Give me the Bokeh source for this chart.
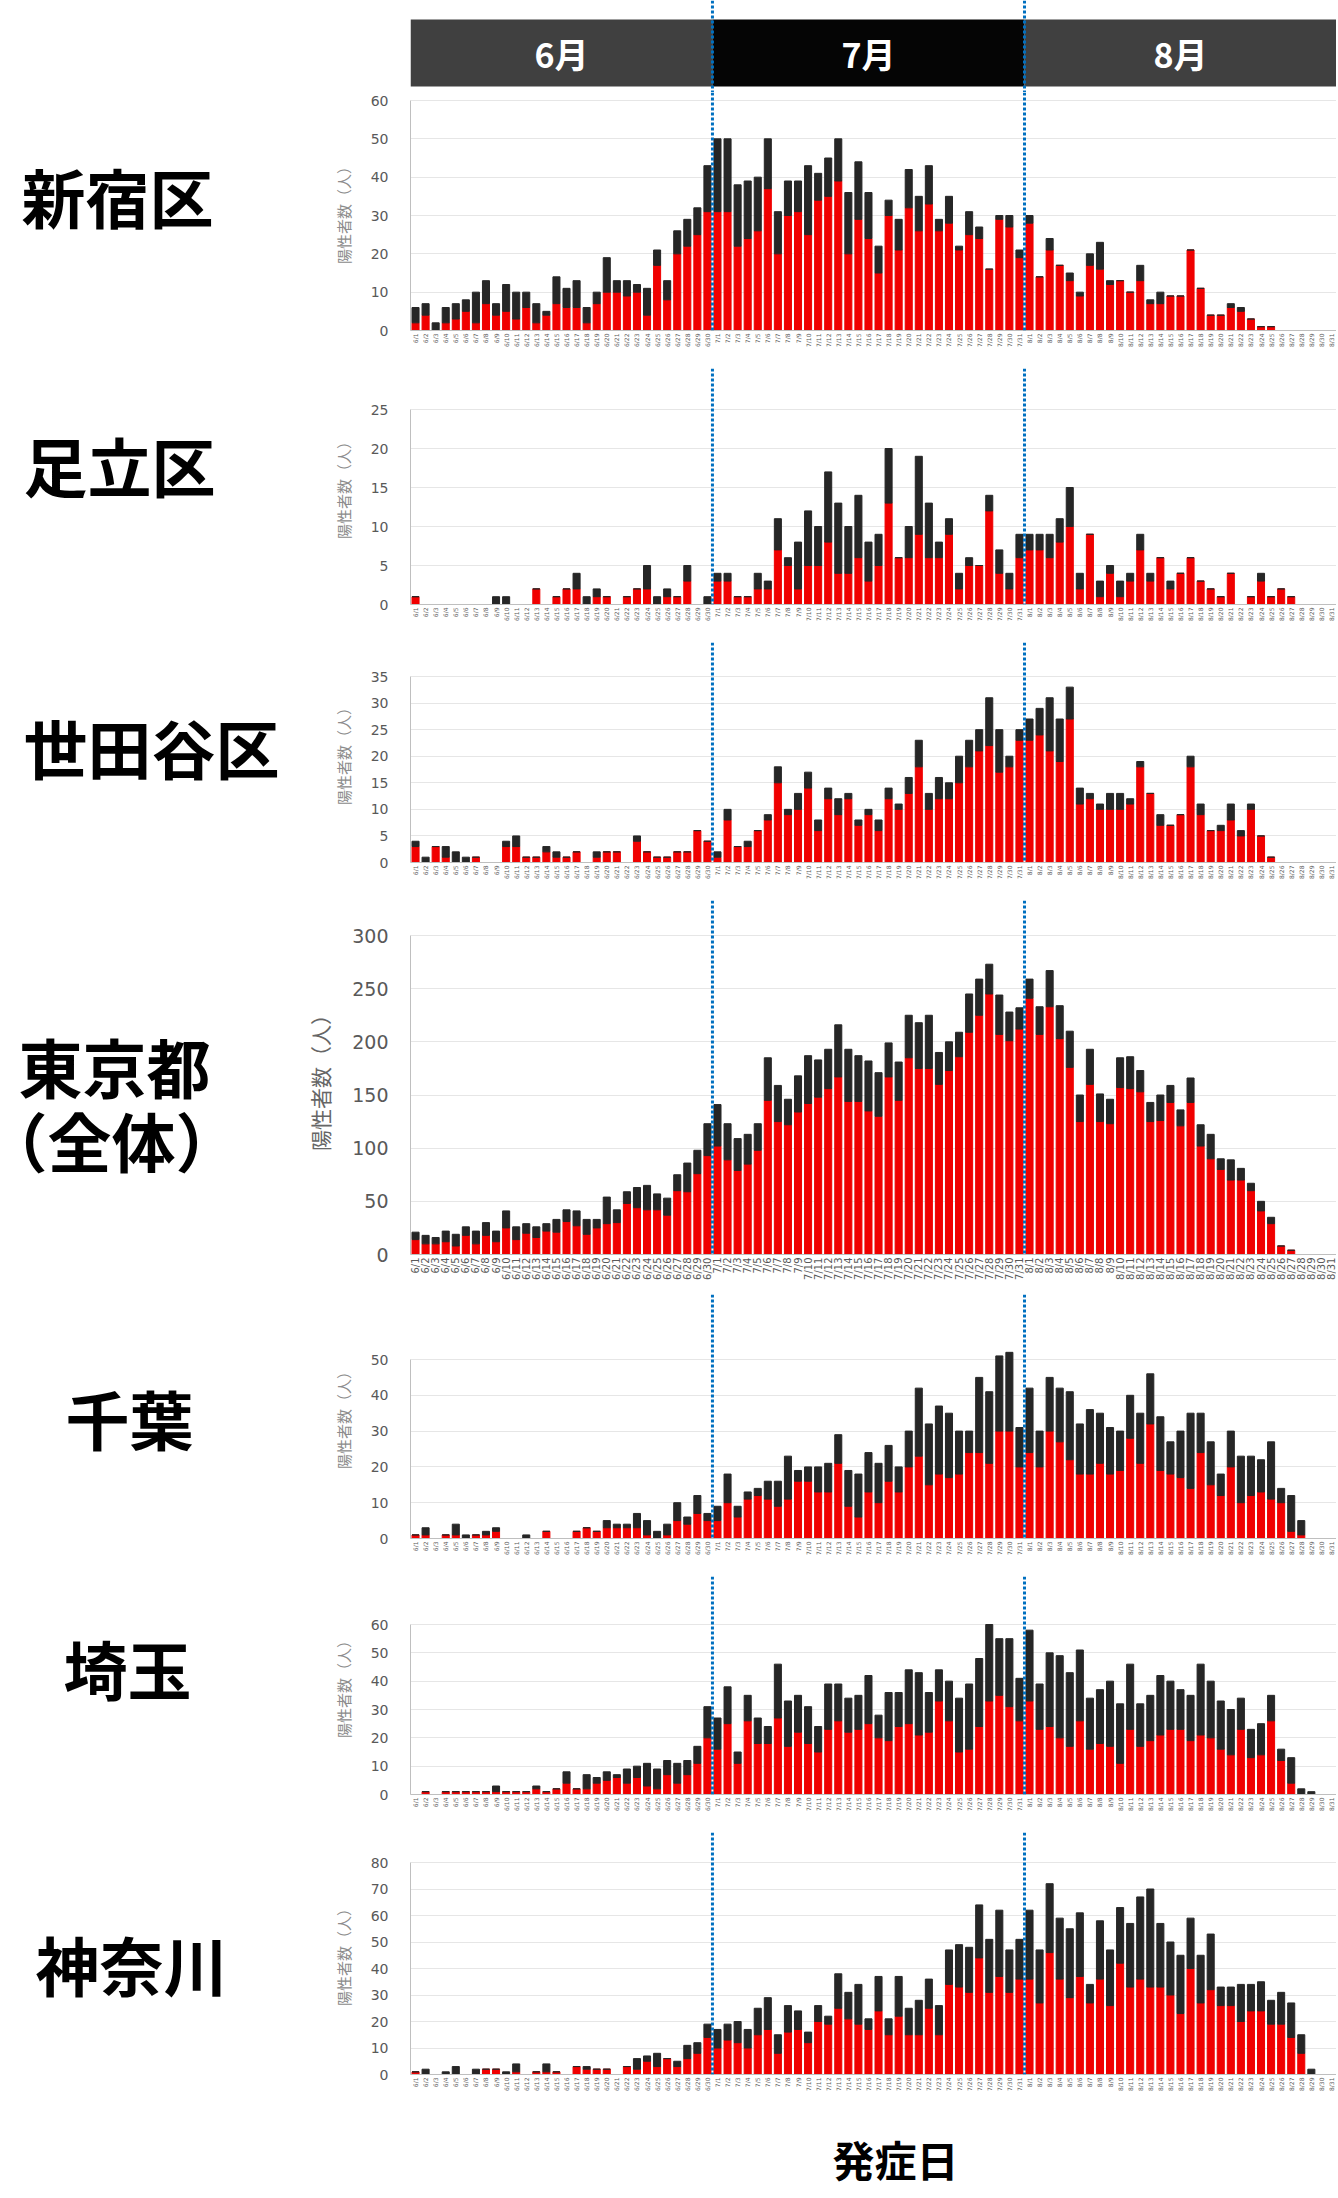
import math
from bokeh.plotting import figure
from bokeh.models import ColumnDataSource, Range1d, FixedTicker, Span
from bokeh.layouts import column, row
from bokeh.embed import file_html
from bokeh.resources import INLINE
from bokeh.core.properties import value

# ---------------- data ----------------
MONTH_LABELS = ["6月", "7月", "8月"]
MONTH_NUMBERS = [6, 7, 8]
MONTH_DAYS = [30, 31, 31]
DATE_LABELS = [f"{m}/{d}" for m, n in zip(MONTH_NUMBERS, MONTH_DAYS) for d in range(1, n + 1)]

AREA_NAMES = ["新宿区", "足立区", "世田谷区", "東京都", "千葉", "埼玉", "神奈川"]
AXIS_TITLE = "陽性者数（人）"
X_TITLE = "発症日"

SHINJUKU_TOTAL = [6,7,2,6,7,8,10,13,7,12, 10,10,7,5,14,11,13,6,10,19, 13,13,12,11,21,13,26,29,32,43,
                  50,50,38,39,40,50,31,39,39,43, 41,45,50,36,44,36,22,34,29,42, 35,43,29,35,22,31,27,16,30,30, 21,
                  30,14,24,17,15,10,20,23,13,13, 10,17,8,10,9,9,21,11,4,4, 7,6,3,1,1,0,0,0,0,0, 0]
SHINJUKU_RED = [2,4,0,2,3,5,2,7,4,5, 3,6,2,4,7,6,6,2,7,10, 10,9,10,4,17,8,20,22,25,31,
                31,31,22,24,26,37,20,30,31,25, 34,35,39,20,29,24,15,30,21,32, 26,33,26,28,21,25,24,16,29,27, 19,
                28,14,21,17,13,9,17,16,12,13, 10,13,7,7,9,9,21,11,4,4, 6,5,3,1,1,0,0,0,0,0, 0]

ADACHI_TOTAL = [1,0,0,0,0,0,0,0,1,1, 0,0,2,0,1,2,4,1,2,1, 0,1,2,5,1,2,1,5,0,1,
                4,4,1,1,4,3,11,6,8,12, 10,17,13,10,14,8,9,20,6,10, 19,13,8,11,4,6,5,14,7,4, 9,
                9,9,9,11,15,4,9,3,5,3, 4,9,4,6,3,4,6,3,2,1, 4,0,1,4,1,2,1,0,0,0, 0]
ADACHI_RED = [1,0,0,0,0,0,0,0,0,0, 0,0,2,0,1,2,2,0,1,1, 0,1,2,2,0,1,1,3,0,0,
              3,3,1,1,2,2,7,5,2,5, 5,8,4,4,6,3,5,13,6,6, 9,6,6,9,2,5,5,12,4,2, 6,
              7,7,6,8,10,2,9,1,4,1, 3,7,3,6,2,4,6,3,2,1, 4,0,1,3,1,2,1,0,0,0, 0]

SETAGAYA_TOTAL = [4,1,3,3,2,1,1,0,0,4, 5,1,1,3,2,1,2,0,2,2, 2,0,5,2,1,1,2,2,6,4,
                  2,10,3,4,6,9,18,10,13,17, 8,14,12,13,8,10,8,14,11,16, 23,13,16,15,20,23,25,31,25,20, 25,
                  27,29,31,27,33,14,13,11,13,13, 12,19,13,9,7,9,20,11,6,7, 11,6,11,5,1,0,0,0,0,0, 0]
SETAGAYA_RED = [3,0,3,1,0,0,1,0,0,3, 3,1,1,2,1,1,2,0,1,2, 2,0,4,2,1,1,2,2,6,4,
                1,8,3,3,6,8,15,9,10,14, 6,12,9,12,7,9,6,12,10,13, 18,10,12,12,15,18,21,22,17,18, 23,
                23,24,21,19,27,11,12,10,10,10, 11,18,13,7,7,9,18,9,6,6, 8,5,10,5,1,0,0,0,0,0, 0]

TOKYO_TOTAL = [21,18,16,22,19,26,22,30,22,41, 26,29,26,29,33,42,41,33,33,54, 42,59,63,65,57,53,75,86,98,123,
               141,123,109,113,123,185,159,146,168,187, 183,193,216,193,187,182,171,199,181,225,
               218,225,190,200,209,245,259,273,244,228, 232,
               259,233,267,234,210,150,193,151,146,185, 186,173,143,150,159,136,166,122,113,90,
               89,81,67,50,35,8,4,0,0,0, 0]
TOKYO_RED = [14,10,10,12,8,18,10,18,12,25, 14,20,16,22,21,31,27,19,25,29, 30,48,44,42,42,37,60,59,76,93,
             102,89,79,85,98,145,125,122,134,142, 148,156,167,144,144,135,130,167,145,185,
             175,175,160,173,186,209,225,245,207,201, 212,
             241,207,233,203,176,125,160,125,123,157, 156,153,125,126,143,121,143,102,90,80,
             70,70,60,41,29,8,4,0,0,0, 0]

CHIBA_TOTAL = [1,3,0,1,4,1,1,2,3,0, 0,1,0,2,0,0,2,3,2,5, 4,4,7,5,2,4,10,6,12,7,
               9,18,9,13,14,16,16,23,19,20, 20,21,29,19,18,24,21,26,20,30, 42,32,37,35,30,30,45,41,51,52, 31,
               42,30,45,42,41,32,36,35,31,30, 40,35,46,34,27,30,35,35,27,18, 30,23,23,22,27,14,12,5,0,0, 0]
CHIBA_RED = [1,1,0,1,1,0,1,1,2,0, 0,0,0,2,0,0,2,3,2,3, 3,3,3,1,0,1,5,4,7,5,
             5,10,6,11,12,11,9,11,16,16, 13,13,21,9,6,13,10,16,13,20, 23,15,18,17,18,24,24,21,30,30, 20,
             24,20,30,27,22,18,18,21,18,19, 28,21,32,19,18,17,14,24,15,12, 20,10,12,13,11,10,2,1,0,0, 0]

SAITAMA_TOTAL = [0,1,0,1,1,1,1,1,3,1, 1,1,3,1,2,8,2,7,6,8, 7,9,10,11,9,12,11,12,17,31,
                 27,38,15,35,27,24,46,33,35,31, 24,39,39,34,35,42,28,36,36,44, 43,36,44,40,34,39,48,60,55,55, 41,
                 58,39,50,49,43,51,34,37,40,32, 46,32,35,42,40,37,35,46,40,33, 30,34,23,25,35,16,13,2,1,0, 0]
SAITAMA_RED = [0,1,0,1,1,1,1,1,1,1, 1,1,2,1,2,4,2,2,4,5, 6,4,6,3,2,7,4,7,11,20,
               16,25,11,26,18,18,27,17,22,18, 15,23,26,22,23,25,20,19,24,25, 21,22,33,26,15,16,24,33,35,31, 26,
               33,23,24,20,17,26,16,18,17,11, 23,17,19,21,23,23,19,21,20,16, 14,23,13,14,26,12,4,0,0,0, 0]

KANAGAWA_TOTAL = [1,2,0,1,3,0,2,2,2,1, 4,0,1,4,1,0,3,3,2,2, 0,3,6,7,8,6,5,11,12,19,
                  17,19,20,17,25,29,15,26,24,16, 26,22,38,31,34,21,37,21,37,25, 28,36,26,47,49,48,64,51,62,47, 51,
                  62,47,72,59,55,61,34,58,47,63, 57,67,70,57,50,45,59,45,53,33, 33,34,34,35,28,31,27,15,2,0, 0]
KANAGAWA_RED = [1,0,0,0,0,0,0,2,2,0, 1,0,1,1,1,0,3,2,2,2, 0,3,2,5,3,6,3,6,8,14,
                10,13,12,10,15,17,8,16,17,12, 20,19,25,21,19,17,24,15,22,15, 15,25,15,34,33,31,44,31,37,31, 36,
                36,27,46,36,29,37,27,36,26,42, 33,36,33,33,30,23,40,27,32,26, 26,20,24,24,19,19,14,8,0,0, 0]

SERIES = [
    (SHINJUKU_TOTAL, SHINJUKU_RED),
    (ADACHI_TOTAL, ADACHI_RED),
    (SETAGAYA_TOTAL, SETAGAYA_RED),
    (TOKYO_TOTAL, TOKYO_RED),
    (CHIBA_TOTAL, CHIBA_RED),
    (SAITAMA_TOTAL, SAITAMA_RED),
    (KANAGAWA_TOTAL, KANAGAWA_RED),
]
# axis maxima / steps per chart
Y_TICK_MAX = [60, 25, 35, 300, 50, 60, 80]
Y_TICK_STEP = [10, 5, 5, 50, 10, 10, 10]

# ---------------- layout / style ----------------
RED = "#f00000"
BLACK = "#262626"
BLUE = "#0070c0"
CJK = "Noto Sans CJK JP"
W_TOTAL = 1336
W_LABEL = 300
W_CHART = W_TOTAL - W_LABEL
PAD_LEFT = 110
FRAME_W = W_TOTAL - W_LABEL - PAD_LEFT
HEADER_H = 92
TOTAL_H = 2196
N = len(DATE_LABELS)
X_RANGE = (-0.5, N - 0.5)
TEXT_DY = 10  # CJK "middle" baseline correction (px)

# page y of top tick, page y of zero line, bottom border, big style
CHART_GEOM = [
    (100, 330, 38, False),
    (409, 604, 38, False),
    (676, 862, 38, False),
    (935, 1254, 40, True),
    (1359, 1538, 38, False),
    (1624, 1794, 38, False),
    (1862, 2074, 38, False),
]
# (text, page x, page y centre, align)
LABEL_POS = [
    [(AREA_NAMES[0], 21, 201, "left")],
    [(AREA_NAMES[1], 23, 469, "left")],
    [(AREA_NAMES[2], 23, 753, "left")],
    [(AREA_NAMES[3], 18, 1073, "left"), ("（全体）", 111, 1155, "center")],
    [(AREA_NAMES[4], 65, 1426, "left")],
    [(AREA_NAMES[5], 63, 1672, "left")],
    [(AREA_NAMES[6], 35, 1973, "left")],
]

cum = []
acc = 0
for n in MONTH_DAYS:
    acc += n
    cum.append(acc)
month_left = [-0.5] + [c - 0.5 for c in cum[:-1]]
month_right = [c - 0.5 for c in cum]
boundaries = month_right[:-1]


def month_lines(p):
    for b in boundaries:
        p.add_layout(Span(location=b, dimension="height", line_color=BLUE,
                          line_width=3, line_dash="3 2"))


def bare_fig(w, h, xr, yr, **kw):
    p = figure(width=w, height=h, x_range=xr, y_range=yr,
               x_axis_location=None, y_axis_location=None,
               output_backend="svg", toolbar_location=None, **kw)
    p.grid.visible = False
    p.outline_line_color = None
    return p


# header: boxes from y=19 to y=86 px
box_top, box_bot = 19, 86
unit = box_bot - box_top
header = bare_fig(W_TOTAL, HEADER_H, Range1d(*X_RANGE),
                  Range1d(-(HEADER_H - box_bot) / unit, 1 + box_top / unit),
                  min_border_left=W_LABEL + PAD_LEFT, min_border_right=0,
                  min_border_top=0, min_border_bottom=0)
header.quad(left=month_left, right=month_right, bottom=0, top=1,
            fill_color=["#404040", "#050505", "#404040"], line_color=None)
header.text(x=[(l + r) / 2 for l, r in zip(month_left, month_right)], y=[0.5] * 3,
            text=MONTH_LABELS, text_color="white", text_font=value(CJK),
            text_font_style="bold", text_font_size="34px",
            text_align="center", text_baseline="middle")
month_lines(header)

rows = []
fig_top = HEADER_H
for (total, red), tmax, tstep, geom, labs in zip(SERIES, Y_TICK_MAX, Y_TICK_STEP, CHART_GEOM, LABEL_POS):
    y_tick_page, y_zero_page, bottom, big = geom
    frame_h = y_zero_page - fig_top
    px_per_unit = (y_zero_page - y_tick_page) / tmax
    y_end = frame_h / px_per_unit
    h = frame_h + bottom

    p = figure(width=W_CHART, height=h, x_range=Range1d(*X_RANGE), y_range=Range1d(0, y_end),
               output_backend="svg", toolbar_location=None,
               min_border_left=PAD_LEFT, min_border_right=0, min_border_top=0,
               min_border_bottom=bottom)
    p.outline_line_color = None
    black = [t - r for t, r in zip(total, red)]
    src = ColumnDataSource(dict(x=list(range(N)), red=red, black=black))
    p.vbar_stack(["red", "black"], x="x", width=0.7, color=[RED, BLACK], source=src)

    yt = FixedTicker(ticks=list(range(0, tmax + 1, tstep)))
    p.yaxis.ticker = yt
    p.ygrid.ticker = yt
    p.yaxis.bounds = (0, tmax)
    p.ygrid.grid_line_color = "#e6e6e6"
    p.xgrid.visible = False
    p.yaxis.axis_line_color = "#bfbfbf"
    p.yaxis.major_tick_line_color = None
    p.yaxis.major_tick_out = 0
    p.yaxis.minor_tick_line_color = None
    p.yaxis.major_label_standoff = 22
    p.yaxis.major_label_text_font = "DejaVu Sans"
    p.yaxis.major_label_text_color = "#595959"
    p.yaxis.major_label_text_font_size = "19px" if big else "14px"
    p.yaxis.axis_label = AXIS_TITLE
    p.yaxis.axis_label_text_font = CJK
    p.yaxis.axis_label_text_font_style = "normal"
    p.yaxis.axis_label_text_font_size = "21px" if big else "15px"
    p.yaxis.axis_label_text_color = "#666666" if big else "#8c8c8c"
    p.yaxis.axis_label_standoff = 14

    p.xaxis.ticker = FixedTicker(ticks=list(range(N)))
    p.xaxis.major_label_overrides = {i: d for i, d in enumerate(DATE_LABELS)}
    p.xaxis.major_label_orientation = math.pi / 2
    p.xaxis.major_label_text_font_size = "10px" if big else "6px"
    p.xaxis.major_label_text_color = "#595959"
    p.xaxis.major_label_text_font = "DejaVu Sans"
    p.xaxis.major_tick_line_color = None
    p.xaxis.major_tick_out = 0
    p.xaxis.minor_tick_line_color = None
    p.xaxis.major_label_standoff = 3
    p.xaxis.axis_line_color = "#bfbfbf"
    month_lines(p)

    lf = bare_fig(W_LABEL, h, Range1d(0, W_LABEL), Range1d(0, h), min_border=0)
    for text, px, py, align in labs:
        lf.text(x=[px], y=[h - (py + TEXT_DY - fig_top)], text=[text],
                text_align=align, text_baseline="middle", text_font=value(CJK),
                text_font_style="bold", text_font_size="64px", text_color="black")
    rows.append(row(lf, p))
    fig_top += h

# footer with the x title (frame aligned with the charts' frames)
foot_h = TOTAL_H - fig_top
foot = bare_fig(W_TOTAL, foot_h, Range1d(0, FRAME_W), Range1d(0, foot_h),
                min_border_left=W_LABEL + PAD_LEFT, min_border_right=0,
                min_border_top=0, min_border_bottom=0)
foot.text(x=[895 - (W_LABEL + PAD_LEFT)], y=[foot_h - (2158 - fig_top)], text=[X_TITLE],
          text_align="center", text_baseline="middle", text_font=value(CJK),
          text_font_style="bold", text_font_size="42px", text_color="black")

layout = column(header, *rows, foot)
open("out.html", "w").write(file_html(layout, INLINE))
